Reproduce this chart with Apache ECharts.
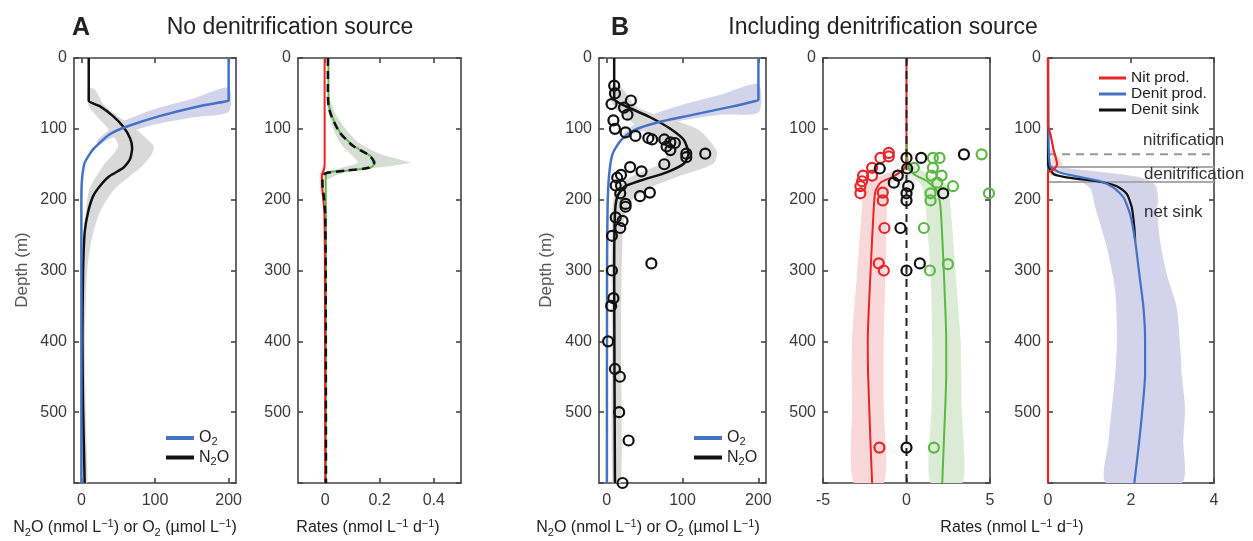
<!DOCTYPE html>
<html><head><meta charset="utf-8">
<script src="https://cdn.jsdelivr.net/npm/echarts@6/dist/echarts.min.js"></script>
<style>html,body{margin:0;padding:0;background:#fff}#c{width:1253px;height:541px}</style>
</head><body><div id="c"></div>
<script>
// ---------- tick labels ----------
const depthTicks = [0, 100, 200, 300, 400, 500];
const depthTickMarks = [0, 100, 200, 300, 400, 500, 600];
const concTicks = [0, 100, 200];
const ratesATicks = [0, 0.2, 0.4];
const ratesBTicks = [-5, 0, 5];
const ratesCTicks = [0, 2, 4];

// ---------- Panel A1: concentrations (no denitrification source) ----------
const o2A = [[200,0],[200,60],[197,61],[160,68],[106,82],[61,97],[38,108],[16,129],[4.5,148],[1,170],[0,200],[0,300],[0,400],[0,500],[0,600]];
const n2oA = [[10,0],[10,60],[25,68],[43,82],[57,97],[66,113],[69,127],[66,143],[57,155],[38,167],[25,181],[16,195],[9,218],[4.5,246],[2.3,303],[1.4,397],[2.3,491],[4.5,600]];
const o2ABandTop = [[200,42],[150,58],[100,72],[60,88],[35,104],[22,116]];
const o2ABandBot = [[200,76],[150,84],[100,94],[60,106],[35,116],[22,124]];
const n2oABandL = [[9,44],[10,68],[34,97],[50,124],[29,153],[11,185],[6,218],[3,256],[1,300],[0.5,400],[1,500],[2,600]];
const n2oABandR = [[18,44],[32,68],[70,97],[98,124],[96,135],[82,153],[45,185],[25,218],[14,256],[8,300],[5,400],[6,500],[8,600]];

// ---------- Panel A2: rates (no denitrification source) ----------
const nitA = [[0.012,0],[0.012,40],[0.014,67],[0.025,82],[0.055,105],[0.104,124],[0.166,138],[0.184,148],[0.166,155],[0.08,159],[0.006,162],[0.002,176],[0.003,250],[0.003,400],[0.003,600]];
const denA = [[-0.002,0],[-0.002,150],[-0.005,158],[-0.012,165],[-0.012,175],[-0.008,195],[-0.003,218],[-0.001,300],[0,600]];
const netA = [[0.01,0],[0.01,40],[0.012,67],[0.023,82],[0.053,105],[0.102,124],[0.164,138],[0.18,148],[0.16,155],[0.075,159],[0.0,163],[-0.01,170],[-0.01,178],[-0.005,195],[0,218],[0.002,300],[0.003,600]];
const nitABandL = [[0.004,55],[0.015,80],[0.035,105],[0.065,125],[0.1,138],[0.12,148],[0.05,156],[0.0,163],[-0.003,172]];
const nitABandR = [[0.012,55],[0.04,80],[0.075,100],[0.125,120],[0.2,135],[0.3,146],[0.315,148],[0.25,152],[0.12,158],[0.05,164],[0.005,172]];
const denABandL = [[-0.006,150],[-0.02,165],[-0.018,185],[-0.008,205]];
const denABandR = [[0.0,150],[0.0,165],[-0.004,185],[-0.002,205]];

// ---------- Panel B1: concentrations (including denitrification source) ----------
const o2B = [[200,0],[200,59],[195,61],[163,69],[110,81],[67,91],[36,102],[19,116],[8,135],[3.5,163],[1.3,210],[0.6,300],[0.4,600]];
const n2oB = [[10,0],[10,58],[23,67],[58,84],[84,100],[102,116],[108,135],[102,149],[80,161],[45,173],[23,182],[14,196],[11,220],[10,304],[11,600]];
const o2BBandTop = [[200,37],[150,52],[100,66],[60,80],[35,95],[20,110]];
const o2BBandBot = [[200,77],[150,80],[100,88],[60,98],[35,108],[20,116]];
const n2oBBandL = [[6,41],[10,69],[45,100],[80,131],[71,149],[32,168],[12,187],[8,210],[6.5,257],[7,400],[8,600]];
const n2oBBandR = [[19,41],[40,69],[119,100],[145,131],[141,149],[93,168],[49,187],[27,210],[21,257],[19,400],[19,600]];
const n2oObs = [[10,39],[11,50],[6.5,65],[32,60],[23,70],[27.5,80],[9,88],[11,100],[25,105],[38,110],[55,113],[60,115],[76,115],[84,119],[90,120],[79,125],[84,130],[105,135],[105,140],[130,135],[76,150],[31,154],[46,160],[19,165],[14,169],[12,180],[19,180],[18,191],[57,190],[44,195],[25,206],[25,210],[12,225],[21,230],[18,240],[7,251],[59,290],[7,300],[9,339],[6,350],[2,400],[11,439],[17.5,450],[16.5,500],[29,540],[21,600]];

// ---------- Panel B2: rates with observations ----------
const denB = [[0,0],[0,130],[-0.1,155],[-0.76,167],[-1.56,176],[-1.86,188],[-1.96,211],[-2.16,305],[-2.32,399],[-2.3,446],[-2.16,540],[-2.06,600]];
const nitB = [[0,120],[0.1,150],[0.44,164],[1.24,174],[1.84,188],[2.04,211],[2.24,305],[2.38,399],[2.38,446],[2.24,540],[2.14,600]];
const netB = [[0,0],[0,600]];
const denBBandL = [[-0.2,155],[-1.6,167],[-2.5,180],[-2.66,211],[-2.96,305],[-3.26,399],[-3.26,493],[-3.16,600]];
const denBBandR = [[0,155],[-0.3,167],[-1,180],[-1.16,211],[-1.26,305],[-1.36,399],[-1.36,493],[-1.36,600]];
const nitBBandL = [[0,155],[0.3,167],[0.9,180],[1.14,211],[1.44,305],[1.54,399],[1.5,493],[1.44,600]];
const nitBBandR = [[0.2,150],[1.5,167],[2.4,180],[2.64,211],[2.94,305],[3.24,399],[3.3,493],[3.34,600]];
const netBBandL = [[-0.2,150],[-0.5,175],[-0.2,200],[-0.1,215]];
const netBBandR = [[0.2,150],[0.6,170],[0.3,200],[0.1,215]];
const nitObs = [[1.58,141],[1.98,141],[1.58,155],[0.44,155],[1.5,166],[2.1,166],[1.84,176],[2.78,181],[1.44,191],[1.44,201],[4.94,191],[4.5,136],[1.04,240],[2.48,291],[1.4,300],[1.64,550]];
const denObs = [[-1.06,134],[-1.06,139],[-1.56,141],[-2.06,155],[-2.6,166],[-2.06,166],[-2.66,174],[-2.76,181],[-2.76,191],[-1.42,190],[-1.42,201],[-1.32,240],[-1.66,290],[-1.36,300],[-1.62,550]];
const netObs = [[0,141],[0.88,141],[3.44,136],[-1.6,156],[0.04,156],[-0.52,166],[-0.76,176],[0.1,181],[0,191],[0,201],[2.2,191],[-0.36,240],[0.8,290],[0,300],[0,550]];

// ---------- Panel B3: production / sink ----------
const nitProd = [[0,0],[0,95],[0.06,108],[0.14,131],[0.22,150],[0.14,157],[0,162],[0,600]];
const denitProd = [[0,0],[0.01,100],[0.02,130],[0.06,153],[0.3,162],[0.86,169],[1.26,174],[1.58,183],[1.82,197],[1.98,221],[2.1,258],[2.2,305],[2.3,352],[2.34,399],[2.34,446],[2.28,493],[2.2,540],[2.08,600]];
const denitSink = [[0,0],[0,150],[0.14,164],[0.62,170],[1.18,174],[1.66,181],[1.9,192],[2.02,211],[2.08,239],[2.1,258]];
const denitProdBandL = [[0,150],[0.3,162],[1.0,183],[1.14,211],[1.42,268],[1.62,329],[1.66,399],[1.62,446],[1.54,493],[1.46,540],[1.4,600]];
const denitProdBandR = [[0.1,150],[0.46,156],[2.06,168],[2.54,180],[2.62,211],[2.7,258],[2.86,305],[3.1,352],[3.2,420],[3.22,446],[3.3,493],[3.26,540],[3.22,600]];
const denitSinkBandL = [[0,152],[0.8,170],[1.6,185],[2.0,211]];
const denitSinkBandR = [[0.4,155],[2.2,168],[2.6,180],[2.62,211]];
const nitProdBandL = [[0,130],[0.1,140],[0.05,165]];
const nitProdBandR = [[0.1,130],[0.35,150],[0.2,165]];
const zoneNitDepth = [[0,136],[4,136]];
const zoneDen1 = [[0,154],[4,154]];
const zoneDen2 = [[0,175],[4,175]];

// ---------- layout ----------
const TOP = 58, H = 425;
const grids = [
  {left:74, width:162}, {left:298, width:163}, {left:599, width:167}, {left:823, width:167}, {left:1048, width:166}
];
const xRanges = [[-10,210,concTicks],[-0.1,0.5,ratesATicks],[-10,210,concTicks],[-5,5,ratesBTicks],[0,4,ratesCTicks]];
const FONT = "'Liberation Sans', Arial, Helvetica, sans-serif";
const AX = '#444';

const gridOpt = grids.map(g => ({left:g.left, top:TOP, width:g.width, height:H}));
const xAxes = [], yAxes = [];
xRanges.forEach((r, i) => {
  const base = {type:'value', gridIndex:i, min:r[0], max:r[1], splitLine:{show:false},
    axisLine:{show:true, onZero:false, lineStyle:{color:AX, width:1.6}},
    axisTick:{show:true, inside:true, length:5, customValues:r[2], lineStyle:{color:AX, width:1.6}}};
  xAxes.push(Object.assign({}, base, {position:'bottom',
    axisLabel:{show:true, customValues:r[2], color:'#3a3a3a', fontSize:16, fontFamily:FONT, margin:10}}));
  xAxes.push(Object.assign({}, base, {position:'top', axisLabel:{show:false}}));
  const ybase = {type:'value', gridIndex:i, min:0, max:600, inverse:true, splitLine:{show:false},
    axisLine:{show:true, onZero:false, lineStyle:{color:AX, width:1.6}},
    axisTick:{show:true, inside:true, length:5, customValues:depthTickMarks, lineStyle:{color:AX, width:1.6}}};
  yAxes.push(Object.assign({}, ybase, {position:'left',
    axisLabel:{show:true, customValues:depthTicks, color:'#3a3a3a', fontSize:16, fontFamily:FONT, margin:7}}));
  yAxes.push(Object.assign({}, ybase, {position:'right', axisLabel:{show:false}}));
});

function band(left, right, color, p) {
  const poly = left.concat(right.slice().reverse());
  return {type:'custom', xAxisIndex:2*p, yAxisIndex:2*p, silent:true, clip:true, z:1,
    encode:{x:0, y:1}, data:poly,
    renderItem:(params, api) => {
      if (params.dataIndex !== 0) return null;
      return {type:'polygon', shape:{points:poly.map(q => api.coord(q)), smooth:0.25},
              style:{fill:color}};
    }};
}
function line(data, color, p, opts) {
  opts = opts || {};
  return {type:'line', name:opts.name, xAxisIndex:2*p, yAxisIndex:2*p, data:data, showSymbol:false, symbol:'none',
    smooth:opts.smooth === undefined ? 0.2 : opts.smooth, z:opts.z || 3, silent:true,
    itemStyle:{color:color},
    lineStyle:{color:color, width:opts.width || 2.5, type:opts.type || 'solid'}};
}
function scat(data, color, p) {
  return {type:'scatter', xAxisIndex:2*p, yAxisIndex:2*p, data:data, symbol:'circle', symbolSize:10, z:5, silent:true,
    itemStyle:{color:'rgba(0,0,0,0)', borderColor:color, borderWidth:2.2, opacity:1}};
}

const BLUE = '#4472c4', BLACK = '#111', RED = '#e8262a', GREEN = '#5cb845';
const LAV = '#d3d3ec', GRAY = '#d9d9d9';

const series = [
  band(o2ABandTop, o2ABandBot, LAV, 0),
  band(n2oABandL, n2oABandR, GRAY, 0),
  line(n2oA, BLACK, 0, {name:'N₂O'}),
  line(o2A, BLUE, 0, {name:'O₂'}),
  band(nitABandL, nitABandR, '#d6ddd5', 1),
  band(denABandL, denABandR, '#f7d5d5', 1),
  line(nitA, GREEN, 1, {width:2}),
  line(denA, RED, 1, {width:2}),
  line(netA, BLACK, 1, {width:2.5, type:[8,5], z:4}),
  band(o2BBandTop, o2BBandBot, LAV, 2),
  band(n2oBBandL, n2oBBandR, GRAY, 2),
  line(n2oB, BLACK, 2, {name:'N₂O'}),
  line(o2B, BLUE, 2, {name:'O₂'}),
  scat(n2oObs, BLACK, 2),
  band(denBBandL, denBBandR, '#f8d8d8', 3),
  band(nitBBandL, nitBBandR, '#dcebd5', 3),
  band(netBBandL, netBBandR, '#ececec', 3),
  line(denB, RED, 3, {width:2}),
  line(nitB, GREEN, 3, {width:2}),
  line(netB, '#222', 3, {width:2, type:[8,5], smooth:false, z:4}),
  scat(denObs, RED, 3),
  scat(nitObs, GREEN, 3),
  scat(netObs, BLACK, 3),
  band(denitSinkBandL, denitSinkBandR, '#dcdcdc', 4),
  band(denitProdBandL, denitProdBandR, LAV, 4),
  band(nitProdBandL, nitProdBandR, '#f8d8d8', 4),
  line(zoneNitDepth, '#999', 4, {width:2, type:[8,6], smooth:false, z:2}),
  line(zoneDen1, '#aaa', 4, {width:2, smooth:false, z:2}),
  line(zoneDen2, '#aaa', 4, {width:2, smooth:false, z:2}),
  line(denitSink, BLACK, 4, {name:'Denit sink', width:2.2}),
  line(denitProd, BLUE, 4, {name:'Denit prod.', width:2.2}),
  line(nitProd, RED, 4, {name:'Nit prod.', width:2.2})
];

function txt(x, y, s, o) {
  o = o || {};
  const size = o.size || 16;
  return {type:'text', x:x, y:y, rotation:o.rot || 0, silent:true, z:100, zlevel:0,
    style:{text:s, fill:o.fill || '#222', font:(o.weight || 'normal') + ' ' + size + 'px ' + (o.family || FONT),
      textAlign:o.align || 'center', textVerticalAlign:'middle',
      rich:{
        n:{fontSize:size, fontFamily:FONT, fill:o.fill || '#222', verticalAlign:'middle'},
        s:{fontSize:Math.round(size*0.7), fontFamily:FONT, fill:o.fill || '#222', padding:[9,0,0,0], verticalAlign:'middle'},
        p:{fontSize:Math.round(size*0.7), fontFamily:FONT, fill:o.fill || '#222', padding:[0,0,9,0], verticalAlign:'middle'}
      }}};
}
const concTitle = '{n|N}{s|2}{n|O (nmol L}{p|−1}{n|) or O}{s|2}{n| (µmol L}{p|−1}{n|)}';
const rateTitle = '{n|Rates (nmol L}{p|−1}{n| d}{p|−1}{n|)}';

const legendRich = {
  t:{fontSize:16, fontFamily:FONT, color:'#222'},
  s:{fontSize:11, fontFamily:FONT, color:'#222', padding:[8,0,0,0]}
};
const legendFmt = name => name === 'O₂' ? '{t|O}{s|2}' : '{t|N}{s|2}{t|O}';

const option = {
  animation:false,
  backgroundColor:'#fff',
  grid:gridOpt,
  xAxis:xAxes,
  yAxis:yAxes,
  legend:[
    {left:161, top:425, orient:'vertical', itemGap:2, icon:'rect', itemWidth:28, itemHeight:4,
     data:['O₂','N₂O'], formatter:legendFmt, textStyle:{rich:legendRich}, selectedMode:false},
    {left:689, top:425, orient:'vertical', itemGap:2, icon:'rect', itemWidth:28, itemHeight:4,
     data:['O₂','N₂O'], formatter:legendFmt, textStyle:{rich:legendRich}, selectedMode:false},
    {left:1094, top:65, orient:'vertical', itemGap:0, icon:'rect', itemWidth:27, itemHeight:3,
     data:['Nit prod.','Denit prod.','Denit sink'], textStyle:{fontSize:15.5, color:'#222', fontFamily:FONT}, selectedMode:false}
  ],
  graphic:[
    txt(81, 28, 'A', {weight:'bold', size:25, family:"'Liberation Sans Narrow', 'Liberation Sans', Arial, sans-serif"}),
    txt(290, 28, 'No denitrification source', {size:23}),
    txt(620, 28, 'B', {weight:'bold', size:25, family:"'Liberation Sans Narrow', 'Liberation Sans', Arial, sans-serif"}),
    txt(883, 28, 'Including denitrification source', {size:23}),
    txt(22, 270, 'Depth (m)', {rot:Math.PI/2, size:17, fill:'#555'}),
    txt(546, 270, 'Depth (m)', {rot:Math.PI/2, size:17, fill:'#555'}),
    txt(125, 528, concTitle, {size:16}),
    txt(368, 528, rateTitle, {size:16}),
    txt(648, 528, concTitle, {size:16}),
    txt(1012, 528, rateTitle, {size:16}),
    txt(1143, 140, 'nitrification', {align:'left', size:17, fill:'#333'}),
    txt(1144, 174, 'denitrification', {align:'left', size:17, fill:'#333'}),
    txt(1144, 212, 'net sink', {align:'left', size:17, fill:'#333'})
  ],
  series:series
};
const chart = echarts.init(document.getElementById('c'), null, {renderer:'canvas'});
chart.setOption(option);
</script></body></html>
